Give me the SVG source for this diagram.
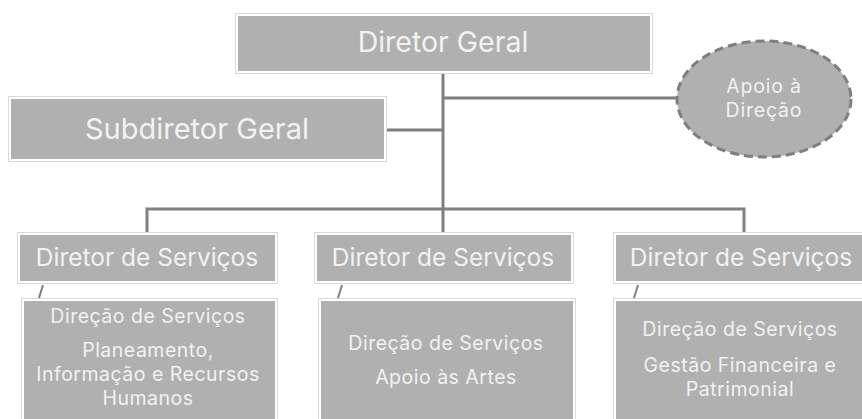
<svg xmlns="http://www.w3.org/2000/svg" width="862" height="419" viewBox="0 0 862 419">
<style>
.outer{fill:#ffffff;stroke:#d9d9d9;stroke-width:1}
.inner{fill:#b0b0b0}
.t{font-family:Inter,"Open Sans","Liberation Sans",sans-serif;fill:#f2f2f2;text-anchor:middle}
.s{font-size:19.5px;letter-spacing:0.5px}
.conn{stroke:#7f7f7f;stroke-width:3;fill:none}
.tick{stroke:#7f7f7f;stroke-width:2;fill:none}
</style>
<rect width="862" height="419" fill="#ffffff"/>
<g id="connectors">
<path class="conn" d="M443,73 V233"/>
<path class="conn" d="M386,130 H443"/>
<path class="conn" d="M443,98 H677"/>
<path class="conn" d="M147,233 V209 H744 V233"/>
<path class="tick" d="M43,285 L39,298"/>
<path class="tick" d="M342,285 L338,298"/>
<path class="tick" d="M638,285 L634,298"/>
</g>
<g id="diretor-geral">
<rect class="outer" x="235.5" y="13.5" width="417" height="60"/>
<rect class="inner" x="238" y="16" width="412" height="55"/>
<text class="t" x="443" y="52" font-size="28.5">Diretor Geral</text>
</g>
<g id="subdiretor-geral">
<rect class="outer" x="8.5" y="96.5" width="378" height="65"/>
<rect class="inner" x="11" y="99" width="373" height="60"/>
<text class="t" x="197" y="139" font-size="29">Subdiretor Geral</text>
</g>
<g id="apoio-direcao">
<ellipse cx="764" cy="99" rx="87" ry="58" fill="#b0b0b0" stroke="#7f7f7f" stroke-width="3" stroke-dasharray="9,5"/>
<text class="t" x="764" y="93" font-size="19.5" letter-spacing="0.8">Apoio à</text>
<text class="t" x="764" y="117" font-size="19.5" letter-spacing="0.8">Direção</text>
</g>
<g id="diretor-servicos-1">
<rect class="outer" x="17.5" y="232.5" width="260" height="51"/>
<rect class="inner" x="20" y="235" width="255" height="46"/>
<text class="t" x="147" y="266" font-size="24.5">Diretor de Serviços</text>
</g>
<g id="diretor-servicos-2">
<rect class="outer" x="314.5" y="232.5" width="259" height="51"/>
<rect class="inner" x="317" y="235" width="254" height="46"/>
<text class="t" x="443" y="266" font-size="24.5">Diretor de Serviços</text>
</g>
<g id="diretor-servicos-3">
<rect class="outer" x="613.5" y="232.5" width="260" height="51"/>
<rect class="inner" x="616" y="235" width="255" height="46"/>
<text class="t" x="741" y="266" font-size="24.5">Diretor de Serviços</text>
</g>
<g id="direcao-planeamento">
<rect class="outer" x="21.5" y="298.5" width="256" height="130"/>
<rect class="inner" x="24" y="301" width="251" height="125"/>
<text class="t s" x="148" y="323">Direção de Serviços</text>
<text class="t s" x="148" y="357">Planeamento,</text>
<text class="t s" x="148" y="381">Informação e Recursos</text>
<text class="t s" x="148" y="405">Humanos</text>
</g>
<g id="direcao-apoio-artes">
<rect class="outer" x="318.5" y="298.5" width="257" height="130"/>
<rect class="inner" x="321" y="301" width="252" height="125"/>
<text class="t s" x="446" y="350">Direção de Serviços</text>
<text class="t s" x="446" y="384">Apoio às Artes</text>
</g>
<g id="direcao-gestao-financeira">
<rect class="outer" x="613.5" y="298.5" width="260" height="130"/>
<rect class="inner" x="616" y="301" width="255" height="125"/>
<text class="t s" x="740" y="336">Direção de Serviços</text>
<text class="t s" x="740" y="372">Gestão Financeira e</text>
<text class="t s" x="740" y="396">Patrimonial</text>
</g>
</svg>
